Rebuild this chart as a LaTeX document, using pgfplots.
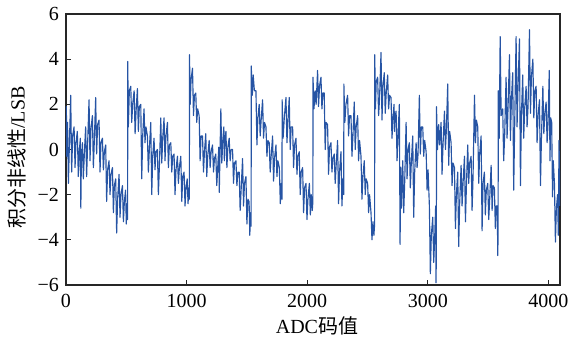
\documentclass[border=0pt]{standalone}
\usepackage{fontspec}
\setmainfont{Liberation Serif}
\newfontfamily\cjk{Noto Sans CJK SC}
\usepackage{pgfplots}
\pgfplotsset{compat=1.18}
\definecolor{inlblue}{RGB}{38,84,164}
\begin{document}
\fontsize{20}{24}\selectfont
\begin{tikzpicture}
\begin{axis}[
  scale only axis, width=494pt, height=271pt,
  xmin=0, xmax=4096, ymin=-6, ymax=6,
  xtick={0,1000,2000,3000,4000},
  xticklabels={0,1000,2000,3000,4000},
  ytick={-6,-4,-2,0,2,4,6},
  yticklabels={−6,−4,−2,0,2,4,6},
  tick align=inside, xtick pos=left, ytick pos=left,
  major tick length=5pt,
  axis line style={line width=1.1pt, black!85},
  tick style={line width=0.9pt, black!85},
  ticklabel style={font=\fontsize{20}{24}\selectfont, inner sep=1pt},
  xticklabel style={yshift=-8pt},
  yticklabel style={xshift=-6pt},
  label style={font=\fontsize{20}{24}\selectfont, inner sep=0pt},
  xlabel={ADC{\cjk 码值}},
  ylabel={{\cjk 积分非线性}/LSB},
  xlabel style={at={(axis description cs:0.508,-0.152)}, anchor=center},
  ylabel style={at={(axis description cs:-0.099,0.47)}, anchor=center, rotate=0},
]
\addplot[inlblue, line width=1.15pt, line join=round, mark=none] coordinates {
(0,1.1)(3,1.9)(6,-0.3)
(13,1.2)(20,-1.5)(28,0.2)
(39,2.4)(47,-1.0)(55,0.6)
(67,1.0)(75,-0.8)(83,0.3)
(94,0.8)(102,-1.2)(110,-0.1)
(119,0.5)(123,-2.6)(127,-0.6)
(136,0.3)(144,-1.3)(152,-0.2)
(163,1.0)(171,-1.2)(179,0.2)
(191,2.2)(199,-0.5)(207,0.9)
(219,1.5)(227,-0.8)(235,0.4)
(246,2.3)(254,-0.2)(262,1.1)
(274,1.3)(282,-1.0)(290,0.3)
(302,0.5)(310,-0.9)(318,-0.1)
(329,0.2)(337,-2.3)(345,-0.9)
(357,-0.5)(365,-2.0)(373,-1.1)
(385,-0.8)(393,-2.8)(401,-1.6)
(412,-1.3)(420,-3.7)(428,-2.2)
(440,-1.1)(448,-3.0)(456,-2.0)
(468,-1.6)(476,-3.2)(484,-2.3)
(494,-1.8)(500,-3.3)(506,-2.4)(511,-3.1)
(512,3.9)(517,1.0)(525,2.6)
(537,2.8)(545,1.2)(553,2.0)
(565,2.6)(573,0.7)(581,1.7)
(592,2.7)(600,0.8)(608,1.9)
(620,2.0)(628,-1.3)(636,0.6)
(647,1.8)(655,0.3)(663,1.0)
(675,0.6)(683,-1.0)(691,0.0)
(703,1.2)(711,-2.0)(719,-0.3)
(730,0.5)(738,-0.9)(746,-0.1)
(758,0.0)(766,-2.0)(774,-0.8)
(786,1.4)(794,-0.6)(802,0.5)
(813,1.4)(821,-0.5)(829,0.6)
(841,1.2)(849,-0.8)(857,0.2)
(869,0.3)(877,-1.0)(885,-0.3)
(896,-0.2)(904,-2.0)(912,-0.9)
(924,-0.3)(932,-1.5)(940,-0.8)
(952,-0.3)(960,-2.3)(968,-1.2)
(979,-1.0)(987,-2.5)(995,-1.7)
(1005,-1.3)(1012,-2.4)(1018,-1.7)(1023,-2.2)
(1024,4.2)(1030,2.0)(1037,3.1)
(1049,3.6)(1057,1.5)(1065,2.4)
(1076,2.5)(1084,1.2)(1092,1.8)
(1104,1.5)(1112,-0.5)(1120,0.6)
(1132,0.6)(1140,-1.0)(1148,-0.1)
(1159,0.7)(1167,-1.2)(1175,-0.3)
(1187,0.4)(1195,-0.8)(1203,-0.1)
(1215,0.2)(1223,-1.0)(1231,-0.4)
(1242,-0.2)(1250,-1.6)(1258,-0.8)
(1267,0.1)(1271,-1.9)(1275,-0.7)
(1284,1.8)(1292,-0.6)(1300,0.4)
(1309,1.0)(1313,-0.5)(1317,0.3)
(1326,0.8)(1334,-0.8)(1342,0.1)
(1353,0.5)(1361,-0.5)(1369,0.0)
(1381,0.0)(1389,-1.5)(1397,-0.6)
(1409,-0.5)(1417,-1.6)(1425,-1.0)
(1436,-1.0)(1444,-2.7)(1452,-1.8)
(1464,-0.4)(1472,-2.5)(1480,-1.5)
(1492,-1.2)(1500,-3.3)(1508,-2.2)
(1518,-2.3)(1524,-3.8)(1530,-2.8)(1535,-3.4)
(1536,3.7)(1545,2.4)(1552,3.3)(1562,2.6)
(1575,2.6)(1583,0.2)(1591,1.4)
(1602,2.0)(1610,0.6)(1618,1.3)
(1630,2.2)(1638,0.5)(1646,1.2)
(1658,1.0)(1666,-0.3)(1674,0.4)
(1685,0.3)(1693,-1.0)(1701,-0.3)
(1713,0.6)(1721,-1.4)(1729,-0.4)
(1741,0.2)(1749,-1.2)(1757,-0.5)
(1769,-0.8)(1777,-2.4)(1785,-1.5)(1791,-2.2)
(1792,2.2)(1800,0.5)(1810,1.4)
(1824,2.3)(1832,0.3)(1840,1.2)
(1851,2.3)(1859,0.0)(1867,1.0)
(1879,1.0)(1887,-0.8)(1895,0.2)
(1907,0.5)(1915,-1.1)(1923,-0.3)
(1934,-0.1)(1942,-2.0)(1950,-1.0)
(1962,-0.8)(1970,-2.8)(1978,-1.7)
(1990,-1.5)(1998,-3.1)(2006,-2.2)
(2018,-1.5)(2026,-2.9)(2034,-2.0)(2042,-2.7)(2047,-2.3)
(2048,3.2)(2056,1.8)(2066,2.6)(2074,2.0)
(2086,3.5)(2094,1.9)(2102,2.8)
(2114,3.2)(2122,1.8)(2130,2.5)
(2141,2.5)(2149,0.0)(2157,1.2)
(2169,1.1)(2177,-1.1)(2185,0.1)
(2197,0.3)(2205,-1.0)(2213,-0.4)
(2224,-0.2)(2232,-1.5)(2240,-0.7)
(2252,0.4)(2260,-2.4)(2268,-1.0)
(2280,-0.1)(2288,-2.5)(2296,-1.3)(2303,-2.0)
(2304,2.9)(2312,1.2)(2321,2.0)
(2335,2.4)(2343,0.6)(2351,1.5)
(2363,1.5)(2371,-0.3)(2379,0.6)
(2390,2.1)(2398,0.0)(2406,1.0)
(2418,1.5)(2426,-0.5)(2434,0.4)
(2446,-0.3)(2454,-2.2)(2462,-1.2)
(2473,-0.5)(2481,-2.0)(2489,-1.3)
(2501,-1.5)(2509,-2.8)(2517,-2.0)
(2529,-2.8)(2537,-4.0)(2545,-3.2)(2553,-3.8)(2559,-3.3)
(2560,4.2)(2566,1.8)(2572,3.0)
(2584,3.2)(2592,1.5)(2600,2.3)
(2612,4.3)(2620,1.3)(2628,2.8)
(2639,3.4)(2647,1.6)(2655,2.5)
(2667,3.3)(2675,1.8)(2683,2.4)
(2695,2.3)(2703,0.5)(2711,1.4)
(2720,2.0)(2724,0.8)(2728,1.4)
(2737,1.7)(2745,-0.5)(2753,0.6)
(2764,2.0)(2770,-4.2)(2775,-0.8)(2781,-2.6)
(2792,-0.5)(2800,-2.8)(2808,-1.5)
(2820,1.2)(2828,-1.3)(2836,0.0)
(2847,0.3)(2855,-1.7)(2863,-0.6)
(2875,0.6)(2883,-3.0)(2891,-1.0)
(2903,0.3)(2911,-0.8)(2919,-0.2)
(2930,2.4)(2938,-0.2)(2946,1.0)
(2958,1.0)(2966,-0.3)(2974,0.4)
(2986,-0.1)(2994,-1.8)(3002,-0.9)
(3013,-2.5)(3021,-5.5)(3029,-3.8)
(3041,-3.0)(3049,-5.0)(3057,-3.9)
(3065,-2.5)(3068,-5.9)(3071,-4.5)
(3072,1.9)(3080,0.0)(3090,1.1)(3098,0.2)
(3110,1.2)(3118,-1.1)(3126,0.2)
(3138,1.7)(3146,0.0)(3154,0.9)
(3165,2.9)(3173,-0.7)(3181,0.8)
(3193,0.3)(3201,-1.6)(3209,-0.6)
(3221,-0.8)(3229,-3.5)(3237,-2.0)
(3248,-1.0)(3256,-4.3)(3264,-2.4)
(3276,-0.7)(3284,-2.5)(3292,-1.5)
(3304,-0.3)(3312,-3.2)(3320,-1.6)
(3331,0.2)(3339,-1.5)(3347,-0.6)
(3359,-0.3)(3367,-2.7)(3375,-1.2)
(3387,2.4)(3395,0.3)(3403,1.3)
(3414,1.0)(3422,-1.5)(3430,-0.2)
(3442,0.6)(3450,-3.6)(3458,-1.5)
(3469,-1.0)(3477,-2.9)(3485,-1.8)
(3497,-1.5)(3505,-3.1)(3513,-2.2)
(3525,-0.7)(3533,-2.7)(3541,-1.6)
(3552,-1.7)(3560,-3.5)(3568,-2.5)
(3576,-2.5)(3580,-4.7)(3583,-3.6)
(3584,2.6)(3592,0.5)(3600,5.0)(3608,1.5)
(3621,1.8)(3629,-0.5)(3637,0.6)
(3649,3.2)(3657,0.5)(3665,1.8)
(3677,4.2)(3685,0.4)(3693,2.2)
(3704,3.4)(3712,-1.8)(3720,1.0)
(3732,5.0)(3740,1.0)(3748,2.8)
(3760,4.9)(3768,-1.6)(3776,1.5)
(3787,3.3)(3795,0.5)(3803,1.8)
(3815,2.8)(3823,1.0)(3831,1.9)
(3843,5.3)(3851,1.6)(3859,3.2)
(3871,4.0)(3879,1.4)(3887,2.6)
(3898,2.8)(3906,0.3)(3914,1.5)
(3926,2.2)(3934,-1.6)(3942,0.5)
(3954,2.8)(3962,0.7)(3970,1.6)
(3981,2.1)(3989,0.3)(3997,1.2)
(4007,3.5)(4013,-0.5)(4019,1.4)
(4027,1.2)(4034,-2.1)(4040,-0.5)
(4050,-1.5)(4058,-4.1)(4066,-2.6)
(4076,-2.0)(4082,-3.8)(4088,0.4)(4095,-2.5)
};
\end{axis}
\pgfresetboundingbox
\path[use as bounding box] (-66pt,-54pt) rectangle (502pt,285pt);
\end{tikzpicture}
\end{document}
